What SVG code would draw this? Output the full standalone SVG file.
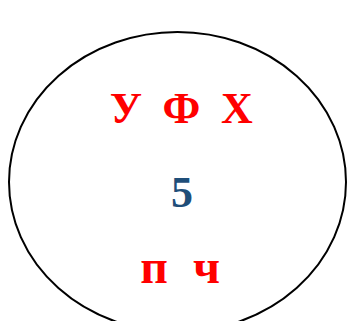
<svg xmlns="http://www.w3.org/2000/svg" width="347" height="321" viewBox="0 0 347 321">
<style>
.t{font-family:"Liberation Serif","Times New Roman",serif;font-weight:bold;font-size:44px;text-anchor:middle}
.r{fill:#FF0000}
.b{fill:#1F4E79}
</style>
<rect width="347" height="321" fill="#fff"/>
<g id="circle">
<ellipse cx="177.5" cy="182" rx="168.5" ry="150" fill="none" stroke="#000" stroke-width="2"/>
</g>
<g id="labels">
<text class="t r" y="123"><tspan x="126">У</tspan><tspan x="181.5">Ф</tspan><tspan x="237">Х</tspan></text>
<text class="t b" x="182" y="207">5</text>
<text class="t r" y="283" style="font-size:48px"><tspan x="154">п</tspan><tspan x="206.5">ч</tspan></text>
</g>
</svg>
